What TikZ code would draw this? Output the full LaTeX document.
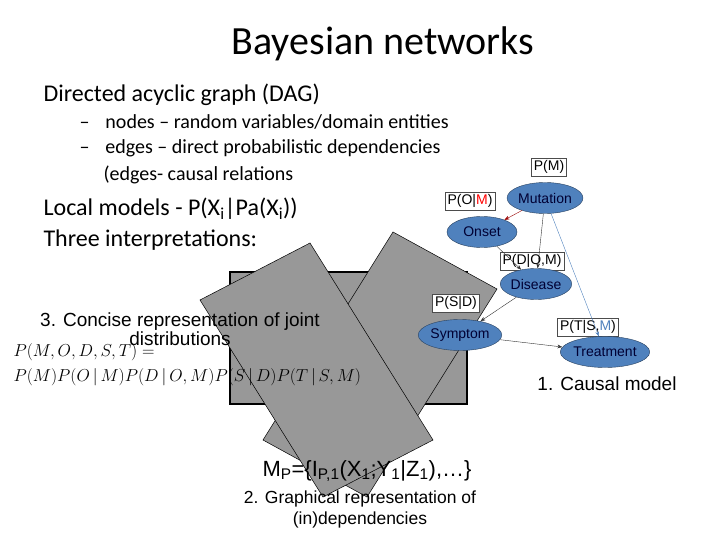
\documentclass[tikz,border=0pt]{standalone}
\usepackage{fontspec}
\setmainfont{Carlito}
\newfontfamily\arialf{Liberation Sans}
\usetikzlibrary{shapes.geometric,arrows.meta}
\definecolor{nodeblue}{RGB}{79,129,189}
\definecolor{boxgray}{RGB}{152,152,152}
\begin{document}
\begin{tikzpicture}[x=1pt,y=-1pt,
  bn/.style={ellipse,draw=nodeblue!50!black,fill=nodeblue,font=\arialf\fontsize{14}{15}\selectfont,text=black!80!blue,inner sep=0pt,minimum height=31,minimum width=#1},
  cpt/.style={draw=black!70,fill=white,font=\arialf\fontsize{14}{15}\selectfont,inner sep=2.5pt},
  ed/.style={-{Stealth[length=5pt]},thin,black!80},
  rot/.style={draw=black,fill=boxgray,line width=0.5pt}]
\useasboundingbox (0,0) rectangle (720,540);
\node (title) at (383,44) {\fontsize{40}{44}\selectfont Bayesian networks};
\node[anchor=west] (l1) at (40,95) {\fontsize{24}{28}\selectfont Directed acyclic graph (DAG)};
\node[anchor=west] (l2) at (76,122) {\fontsize{20}{24}\selectfont --\hspace{0.8em}nodes -- random variables/domain entities};
\node[anchor=west] (l3) at (76,148) {\fontsize{20}{24}\selectfont --\hspace{0.8em}edges -- direct probabilistic dependencies};
\node[anchor=west] (l4) at (100,175) {\fontsize{20}{24}\selectfont (edges- causal relations};
\node[anchor=west] (l5) at (40,209) {\fontsize{24}{28}\selectfont Local models - P(X\textsubscript{i}|Pa(X\textsubscript{i}))};
\node[anchor=west] (l6) at (40,240) {\fontsize{24}{28}\selectfont Three interpretations:};
% background boxes
\draw[draw=black,fill=boxgray,line width=1.5pt] (230,272) rectangle (467,404);
\draw[rot] (393,232) -- (497,289) -- (367,497) -- (263,440) -- cycle;
\draw[rot] (310,243) -- (433,440) -- (323,497) -- (200,300) -- cycle;
% texts
\node[align=center,font=\arialf\fontsize{19}{19}\selectfont] (t3) at (180,329) {3. Concise representation of joint\\distributions};
\node[anchor=west,font=\fontsize{18}{20}\selectfont] (e1) at (10,352) {$P(M,O,D,S,T)=$};
\node[anchor=west,font=\fontsize{18}{20}\selectfont] (e2) at (10,377) {$P(M)P(O\,|\,M)P(D\,|\,O,M)P(S\,|\,D)P(T\,|\,S,M)$};
\node[font=\arialf\fontsize{22}{24}\selectfont] (mp) at (367,471) {M\textsubscript{P}=\{I\textsubscript{P,1}(X\textsubscript{1};Y\textsubscript{1}|Z\textsubscript{1}),\dots\}};
\node[align=center,font=\arialf\fontsize{17.5}{21}\selectfont] (t2) at (360,509) {2. Graphical representation of\\(in)dependencies};
\node[font=\arialf\fontsize{19}{20}\selectfont] (t1) at (607,384) {1. Causal model};
% graph
\node[cpt] (pm) at (549,167) {P(M)};
\node[cpt] (pom) at (470,201) {P(O|\textcolor{red}{M})};
\node[cpt] (pdom) at (532,261) {P(D|O,M)};
\node[cpt] (psd) at (456,303) {P(S|D)};
\node[cpt] (ptsm) at (588,327) {P(T|S,\textcolor{nodeblue}{M})};
\node[bn=74] (mut) at (545,198) {Mutation};
\node[bn=70] (ons) at (482,232) {Onset};
\node[bn=70] (dis) at (536,284) {Disease};
\node[bn=72] (sym) at (460,335) {Symptom};
\node[bn=74] (tre) at (605,352) {Treatment};
\draw[ed,red!60!black] (mut) -- (ons);
\draw[ed] (mut) -- (dis);
\draw[ed] (ons) -- (dis);
\draw[ed] (dis) -- (sym);
\draw[ed] (sym) -- (tre);
\draw[ed,nodeblue] (mut) -- (tre);
\end{tikzpicture}
\end{document}
